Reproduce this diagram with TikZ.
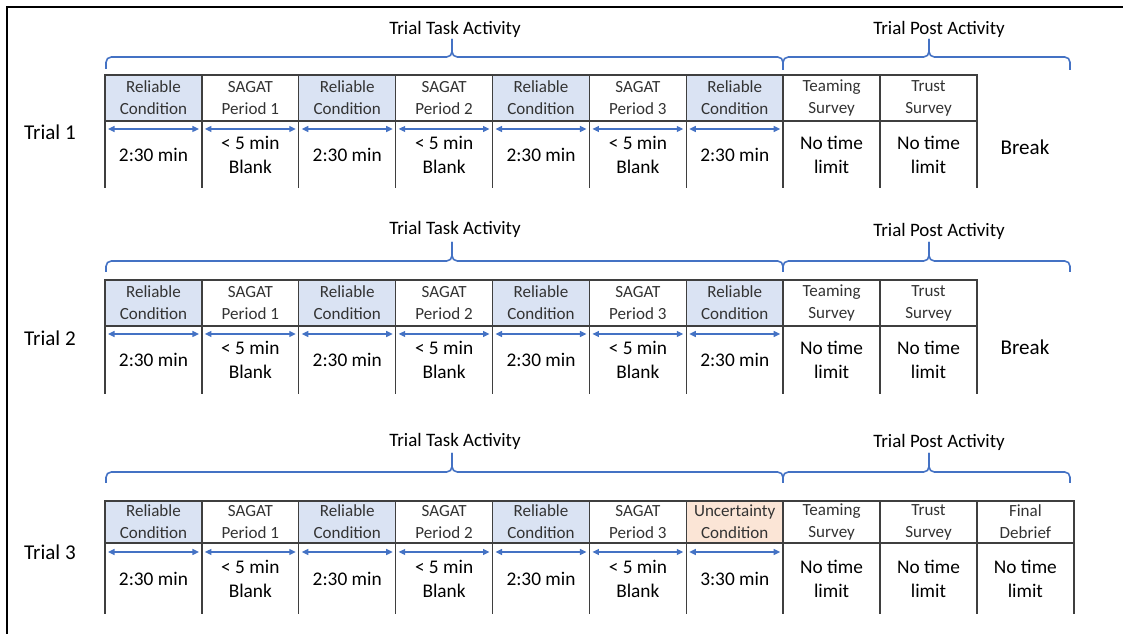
\documentclass[tikz,border=0pt]{standalone}
\usepackage{fontspec}
\setmainfont{Carlito}
\usetikzlibrary{positioning,arrows.meta,calc}
\definecolor{brblue}{HTML}{4472C4}
\definecolor{condfill}{HTML}{DAE3F3}
\definecolor{uncfill}{HTML}{FBE5D6}
\definecolor{rule}{HTML}{3F3F3F}

\begin{document}
\begin{tikzpicture}[x=0.02cm, y=-0.02cm,
      hd/.style={draw=rule, line width=0.8pt, outer sep=0pt, inner sep=0pt, text=black!80,
                 minimum width=1.938cm, align=center, font=\fontsize{9.7}{12.5}\selectfont},
      du/.style={outer sep=0pt, inner sep=0pt, minimum width=1.938cm, align=center,
                 font=\fontsize{11}{13.6}\selectfont},
      sd/.style={draw=rule, line width=0.8pt},
      ar/.style={{Triangle[length=1.3mm,width=1.2mm]}-{Triangle[length=1.3mm,width=1.2mm]},
                 draw=brblue, fill=brblue, line width=0.7pt},
      br/.style={draw=brblue, line width=0.9pt, rounded corners=3pt},
      tt/.style={font=\fontsize{10.8}{13}\selectfont},
      lb/.style={font=\fontsize{12}{14}\selectfont}]

    \useasboundingbox (0,0) rectangle (1123,634);
    \draw[line width=1.1pt] (7,634) -- (7,7) -- (1123,7);

    % --- Trial 1 -----------------------------------------------------------
    \node[hd, fill=condfill, minimum height=0.92cm] (h1-1) at (153.45,98) {Reliable\\Condition};
    \foreach \i/\txt/\col [remember=\i as \j (initially 1)] in
        {2/{SAGAT\\Period 1}/white, 3/{Reliable\\Condition}/condfill,
         4/{SAGAT\\Period 2}/white, 5/{Reliable\\Condition}/condfill,
         6/{SAGAT\\Period 3}/white, 7/{Reliable\\Condition}/condfill,
         8/{Teaming\\Survey}/white, 9/{Trust\\Survey}/white}
      \node[hd, fill=\col, minimum height=0.92cm, right=0pt of h1-\j] (h1-\i) {\txt};
    \foreach \i/\txt in {1/{2:30 min}, 2/{< 5 min\\Blank}, 3/{2:30 min}, 4/{< 5 min\\Blank},
                         5/{2:30 min}, 6/{< 5 min\\Blank}, 7/{2:30 min},
                         8/{No time\\limit}, 9/{No time\\limit}}
      \node[du, minimum height=1.34cm, below=0pt of h1-\i] (d1-\i) {\txt};
    \foreach \i in {1,...,9}
      \draw[sd] (d1-\i.north west) -- (d1-\i.south west) (d1-\i.north east) -- (d1-\i.south east);
    \foreach \i in {1,...,7}
      \draw[ar] ($(d1-\i.north west)+(3,8)$) -- ($(d1-\i.north east)+(-3,8)$);

    \draw[br] (106,69) |- (452,57) -- (452,39);
    \draw[br] (783,70) |- (452,57) -- (452,39);
    \draw[br] (783,70) |- (929,57) -- (929,39);
    \draw[br] (1070,70) |- (929,57) -- (929,39);
    \node[tt] (task1) at (455,29) {Trial Task Activity};
    \node[tt] (post1) at (939,29) {Trial Post Activity};
    \node[lb] (trial1) at (50,132) {Trial 1};
    \node[lb] (brk1) at (1025,147) {Break};

    % --- Trial 2 -----------------------------------------------------------
    \node[hd, fill=condfill, minimum height=0.92cm] (h2-1) at (153.45,303) {Reliable\\Condition};
    \foreach \i/\txt/\col [remember=\i as \j (initially 1)] in
        {2/{SAGAT\\Period 1}/white, 3/{Reliable\\Condition}/condfill,
         4/{SAGAT\\Period 2}/white, 5/{Reliable\\Condition}/condfill,
         6/{SAGAT\\Period 3}/white, 7/{Reliable\\Condition}/condfill,
         8/{Teaming\\Survey}/white, 9/{Trust\\Survey}/white}
      \node[hd, fill=\col, minimum height=0.92cm, right=0pt of h2-\j] (h2-\i) {\txt};
    \foreach \i/\txt in {1/{2:30 min}, 2/{< 5 min\\Blank}, 3/{2:30 min}, 4/{< 5 min\\Blank},
                         5/{2:30 min}, 6/{< 5 min\\Blank}, 7/{2:30 min},
                         8/{No time\\limit}, 9/{No time\\limit}}
      \node[du, minimum height=1.36cm, below=0pt of h2-\i] (d2-\i) {\txt};
    \foreach \i in {1,...,9}
      \draw[sd] (d2-\i.north west) -- (d2-\i.south west) (d2-\i.north east) -- (d2-\i.south east);
    \foreach \i in {1,...,7}
      \draw[ar] ($(d2-\i.north west)+(3,8)$) -- ($(d2-\i.north east)+(-3,8)$);

    \draw[br] (106,272) |- (452,261) -- (452,242);
    \draw[br] (783,272) |- (452,261) -- (452,242);
    \draw[br] (783,272) |- (929,261) -- (929,242);
    \draw[br] (1070,272) |- (929,261) -- (929,242);
    \node[tt] (task2) at (455,229) {Trial Task Activity};
    \node[tt] (post2) at (939,231) {Trial Post Activity};
    \node[lb] (trial2) at (50,338) {Trial 2};
    \node[lb] (brk2) at (1025,347) {Break};

    % --- Trial 3: uncertainty and final debrief ----------------------------
    \node[hd, fill=condfill, minimum height=0.84cm] (h3-1) at (153.45,522) {Reliable\\Condition};
    \foreach \i/\txt/\col [remember=\i as \j (initially 1)] in
        {2/{SAGAT\\Period 1}/white, 3/{Reliable\\Condition}/condfill,
         4/{SAGAT\\Period 2}/white, 5/{Reliable\\Condition}/condfill,
         6/{SAGAT\\Period 3}/white, 7/{Uncertainty\\Condition}/uncfill,
         8/{Teaming\\Survey}/white, 9/{Trust\\Survey}/white, 10/{Final\\Debrief}/white}
      \node[hd, fill=\col, minimum height=0.84cm, right=0pt of h3-\j] (h3-\i) {\txt};
    \foreach \i/\txt in {1/{2:30 min}, 2/{< 5 min\\Blank}, 3/{2:30 min}, 4/{< 5 min\\Blank},
                         5/{2:30 min}, 6/{< 5 min\\Blank}, 7/{3:30 min},
                         8/{No time\\limit}, 9/{No time\\limit}, 10/{No time\\limit}}
      \node[du, minimum height=1.42cm, below=0pt of h3-\i] (d3-\i) {\txt};
    \foreach \i in {1,...,10}
      \draw[sd] (d3-\i.north west) -- (d3-\i.south west) (d3-\i.north east) -- (d3-\i.south east);
    \foreach \i in {1,...,7}
      \draw[ar] ($(d3-\i.north west)+(3,9)$) -- ($(d3-\i.north east)+(-3,9)$);

    \draw[br] (106,483) |- (452,472) -- (452,453);
    \draw[br] (783,483) |- (452,472) -- (452,453);
    \draw[br] (783,483) |- (929,472) -- (929,453);
    \draw[br] (1070,483) |- (929,472) -- (929,453);
    \node[tt] (task3) at (455,441) {Trial Task Activity};
    \node[tt] (post3) at (939,442) {Trial Post Activity};
    \node[lb] (trial3) at (50,552) {Trial 3};
\end{tikzpicture}
\end{document}
